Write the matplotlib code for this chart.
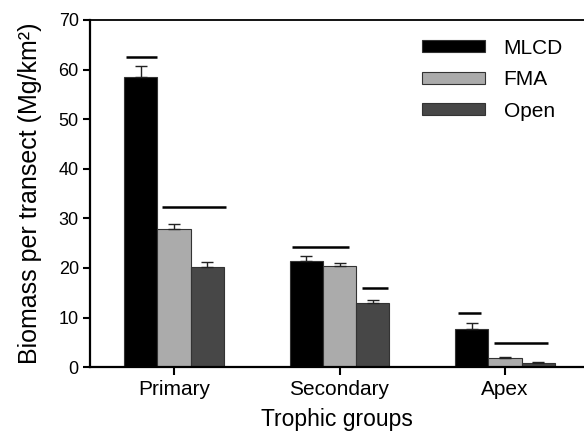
import matplotlib.pyplot as plt
import numpy as np

plt.rcParams['font.family'] = ['Liberation Sans', 'DejaVu Sans']

# values
groups = ["Primary", "Secondary", "Apex"]
series = ["MLCD", "FMA", "Open"]
mlcd = [58.4, 21.4, 7.7]
fma = [27.8, 20.3, 1.75]
open_ = [20.2, 13.0, 0.9]
mlcd_err = [2.3, 1.0, 1.3]
fma_err = [1.0, 0.8, 0.2]
open_err = [1.0, 0.6, 0.2]
colors = ["#000000", "#ababab", "#474747"]

# significance lines: group index, start, end (offset from group centre), height
sig_group = [0, 0, 1, 1, 2, 2]
sig_start = [-0.29, -0.07, -0.29, 0.135, -0.285, -0.065]
sig_end = [-0.10, 0.315, 0.055, 0.29, -0.145, 0.26]
sig_y = [62.5, 32.2, 24.2, 16.0, 10.9, 4.8]

x = np.arange(len(groups))
width = 0.2

fig = plt.figure(figsize=(5.84, 4.34), dpi=100)
ax = fig.add_axes([0.154, 0.154, 0.846, 0.8])

vals = [mlcd, fma, open_]
errs = [mlcd_err, fma_err, open_err]
for i, (name, v, e, c) in enumerate(zip(series, vals, errs, colors)):
    ax.bar(x + (i - 1) * width, v, width, color=c, edgecolor="#333333",
           linewidth=0.8, label=name,
           yerr=[np.zeros(len(v)), e],
           error_kw=dict(ecolor="#222222", elinewidth=1.0, capsize=4, capthick=1.0))

for g, s, e, y in zip(sig_group, sig_start, sig_end, sig_y):
    ax.plot([g + s, g + e], [y, y], color="black", lw=1.8, solid_capstyle="butt")

ax.set_xlim(-0.508, 2.477)
ax.set_ylim(0, 70)
ax.set_yticks(range(0, 71, 10))
ax.set_xticks(x)
ax.set_xticklabels(groups, fontsize=15)
ax.tick_params(axis="y", labelsize=13, length=5, width=1.5, pad=3)
ax.tick_params(axis="x", length=6, width=1.5, pad=3)
for s in ["left", "bottom"]:
    ax.spines[s].set_linewidth(1.6)
ax.spines["top"].set_linewidth(1.3)
ax.spines["right"].set_visible(False)

ax.set_xlabel("Trophic groups", fontsize=16.5, labelpad=7)
ax.set_ylabel("Biomass per transect (Mg/km²)", fontsize=18, labelpad=12)

ax.legend(loc="upper right", bbox_to_anchor=(0.995, 1.0), frameon=False,
          fontsize=15, handlelength=3.0, handleheight=0.5, handletextpad=0.9,
          labelspacing=0.6)

fig.savefig("out.png", dpi=100)
